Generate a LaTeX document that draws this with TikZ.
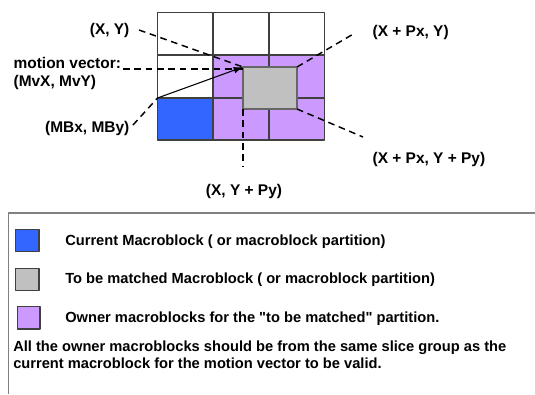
\documentclass[tikz,border=0pt]{standalone}
\usepackage{fontspec}
\setmainfont{Liberation Sans}
\usetikzlibrary{arrows.meta}
\definecolor{mbblue}{HTML}{3366FF}
\definecolor{mbgray}{HTML}{C0C0C0}
\definecolor{mbpurple}{HTML}{CC99FF}
\definecolor{gridline}{HTML}{404040}
\begin{document}
\begin{tikzpicture}[x=0.75pt, y=-0.75pt, line join=round, >={Latex[length=7pt,width=5pt]},
	lbl/.style={font=\fontsize{11.6}{12.8}\selectfont\bfseries, inner sep=1pt},
	legtxt/.style={font=\fontsize{11}{12.5}\selectfont\bfseries, anchor=west, inner sep=0pt},
	cell/.style={draw=gridline, line width=0.8pt},
	swatch/.style={draw=gridline, line width=1pt},
	pointer/.style={dash pattern=on 5pt off 3.5pt, line width=1.1pt}]
	\useasboundingbox (0,0) rectangle (535,394);
	\path
	(157.5,12.5) coordinate (NW)
	(324.5,140) coordinate (SE)
	(157.5,98) coordinate (MB)
	(243,67) coordinate (P)
	(297,67) coordinate (Q)
	(297,109) coordinate (R)
	(243,109) coordinate (S);
	% macroblock grid
	\fill[mbblue] (MB) rectangle (213,140);
	\fill[mbpurple] (213,55) rectangle (SE);
	\draw[cell] (NW) rectangle (SE);
	\draw[cell] (213,12.5)--(213,140) (269,12.5)--(269,140) (157.5,55)--(324.5,55) (157.5,98)--(324.5,98);
	\draw[draw=gridline!80, fill=mbgray, line width=1.1pt] (P) rectangle (R);
	% labels
	\node[lbl, anchor=east] (xy) at (131,30) {(X, Y)};
	\node[lbl, anchor=west] (xpy) at (371,32) {(X + Px, Y)};
	\node[lbl, anchor=west] (xpypy) at (371,159) {(X + Px, Y + Py)};
	\node[lbl] (xypy) at (244,191) {(X, Y + Py)};
	\node[lbl, anchor=east] (mbxy) at (131,128) {(MBx, MBy)};
	\node[lbl, anchor=west, align=left] (mv) at (12,73.5) {motion vector:\\(MvX, MvY)};
	\path
	(123,69) coordinate (mvend)
	(355,33) coordinate (qend)
	(363,137) coordinate (rend)
	(243,167) coordinate (send)
	(133,125) coordinate (mbend);
	\draw[pointer] ([xshift=6pt]xy.east) -- (P);
	\draw[pointer] (mvend) -- (243,69);
	\draw[pointer] (Q) -- (qend);
	\draw[pointer] (R) -- (rend);
	\draw[pointer] (S) -- (send);
	\draw[pointer] (mbend) -- (MB);
	\draw[->, line width=0.8pt] (MB) -- (P);
	% legend
	\draw[gray, line width=1.2pt] (535,212.7) -- (8.3,212.7) -- (8.3,394);
	\draw[swatch, fill=mbblue] (15.7,229.3) rectangle (39,251.7);
	\draw[swatch, fill=mbgray] (15.7,268.3) rectangle (39,290.7);
	\draw[swatch, fill=mbpurple] (17.3,306.7) rectangle (40,329);
	\node[legtxt] (cur) at (65,241.7) {Current Macroblock ( or macroblock partition)};
	\node[legtxt] (tbm) at (65,280) {To be matched Macroblock ( or macroblock partition)};
	\node[legtxt] (own) at (65,318.3) {Owner macroblocks for the \textquotedbl to be matched\textquotedbl\ partition.};
	\node[legtxt, align=left] (note) at (13,355) {All the owner macroblocks should be from the same slice group as the\\current macroblock for the motion vector to be valid.};
\end{tikzpicture}
\end{document}
